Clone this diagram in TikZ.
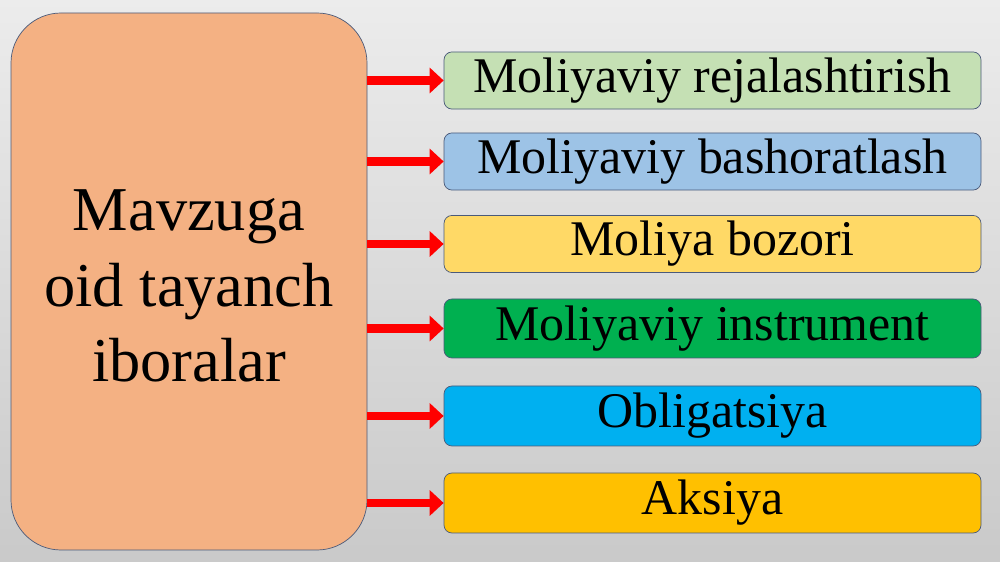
\documentclass[tikz,border=0pt]{standalone}
\usepackage{fontspec}
\setmainfont{Liberation Serif}
\usetikzlibrary{arrows.meta,positioning}
\definecolor{peach}{HTML}{F4B183}
\definecolor{edgeblue}{HTML}{4A5A7A}
\definecolor{palegreen}{HTML}{C5E0B4}
\definecolor{paleblue}{HTML}{9DC3E6}
\definecolor{paleyellow}{HTML}{FFD966}
\definecolor{darkgreen}{HTML}{00B050}
\definecolor{skyblue}{HTML}{00B0F0}
\definecolor{gold}{HTML}{FFC000}
\definecolor{arrowred}{HTML}{FF0000}
\tikzset{
  mainbox/.style={draw=edgeblue,fill=peach,rounded corners=1cm,minimum width=7.12cm,minimum height=10.74cm},
  maintext/.style={align=center,font=\fontsize{35.5}{43}\selectfont},
  termbox/.style={draw=edgeblue,rounded corners=0.16cm,minimum width=10.74cm,font=\fontsize{28.4}{32}\selectfont},
  redarrow/.style={draw=arrowred!80!black,line width=5pt,arrowred,-{Triangle[length=0.28cm,width=0.5cm]}}
}
\begin{document}
\begin{tikzpicture}
% background
\shade[top color=gray!15,bottom color=gray!42] (0,0) rectangle (20,-11.24);
\useasboundingbox (0,0) rectangle (20,-11.24);
\node (main) [mainbox] at (3.78,-5.63) {};
\node (maintxt) [maintext] at (3.78,-5.72) {Mavzuga\\oid tayanch\\iboralar};
%
\node (t1) [termbox,fill=palegreen,minimum height=1.06cm] at (14.25,-1.61) {Moliyaviy rejalashtirish};
\node (t2) [termbox,fill=paleblue,minimum height=1.10cm] at (14.25,-3.23) {Moliyaviy bashoratlash};
\node (t3) [termbox,fill=paleyellow,minimum height=1.08cm] at (14.25,-4.88) {Moliya bozori};
\node (t4) [termbox,fill=darkgreen,minimum height=1.18cm] at (14.25,-6.57) {Moliyaviy instrument};
\node (t5) [termbox,fill=skyblue,minimum height=1.20cm] at (14.25,-8.32) {Obligatsiya};
\node (t6) [termbox,fill=gold,minimum height=1.20cm] at (14.25,-10.06) {Aksiya};
%
\foreach \t in {t1,t2,t3,t4,t5,t6}
  \draw[redarrow] (main.east |- \t.west) -- (\t.west);
\end{tikzpicture}
\end{document}
